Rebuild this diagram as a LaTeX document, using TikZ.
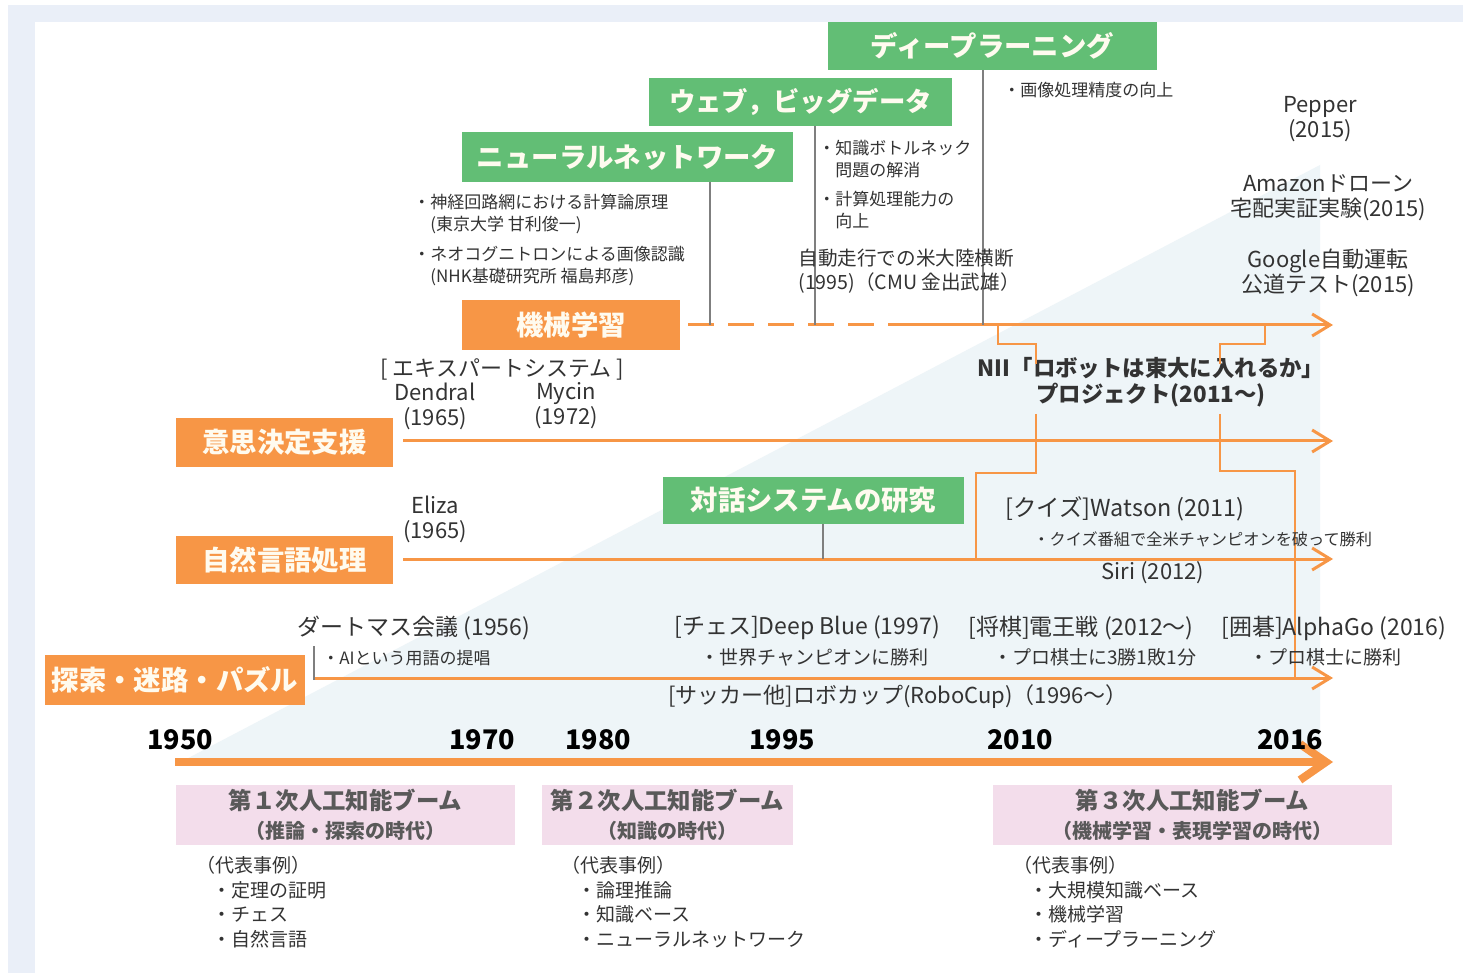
\documentclass[tikz,border=0pt]{standalone}
\usepackage{fontspec}
\setmainfont{Noto Sans CJK JP}
\usetikzlibrary{arrows.meta,calc}
\definecolor{framec}{HTML}{EAEFF8}
\definecolor{tric}{HTML}{EEF5F8}
\definecolor{og}{HTML}{F79646}
\definecolor{gr}{HTML}{62BE75}
\definecolor{pk}{HTML}{F3DDEB}
\definecolor{lg}{HTML}{7F7F7F}
\definecolor{txt}{HTML}{333333}
\definecolor{ptxt}{HTML}{595959}
\definecolor{btxt}{HTML}{FFFBEF}
\begin{document}
\begin{tikzpicture}[x=0.5pt,y=-0.5pt,
  boxlabel/.style={inner sep=0pt, text=btxt, font=\fontsize{13.7}{16}\selectfont\bfseries},
  gbox/.style={boxlabel, fill=gr},
  obox/.style={boxlabel, fill=og},
  pbox/.style={fill=pk, inner sep=0pt, text=ptxt, align=center, font=\bfseries},
  sm/.style={inner sep=0pt, text=txt, align=left, font=\fontsize{8.5}{11}\selectfont},
  sb/.style={inner sep=0pt, text=txt, align=left, font=\fontsize{9.5}{12}\selectfont},
  md/.style={inner sep=0pt, text=txt, align=center, font=\fontsize{11}{12.5}\selectfont},
  mdl/.style={inner sep=0pt, text=txt, align=left, font=\fontsize{11.5}{12.5}\selectfont},
  lst/.style={inner sep=0pt, text=txt, align=left, font=\fontsize{9.5}{12.3}\selectfont},
  yr/.style={inner sep=0pt, text=black, font=\fontsize{13.5}{15}\selectfont\bfseries},
  gline/.style={draw=lg, line width=0.9pt},
  oarrow/.style={draw=og, line width=1.5pt, -{Straight Barb[length=9pt,width=11pt]}},
  odash/.style={draw=og, line width=1.5pt, dash pattern=on 13pt off 7pt},
  othin/.style={draw=og, line width=0.9pt},
  axisarrow/.style={draw=og, line width=4pt, -{Straight Barb[length=13pt,width=18pt]}}
]
\useasboundingbox (0,0) rectangle (1463,973);
% frame and background triangle
\fill[framec] (8,5) rectangle (1463,973);
\fill[white] (35,22) rectangle (1463,973);
\fill[tric] (175,765) -- (1320,165) -- (1320,765) -- cycle;

% boxes
\node[gbox, minimum width=164.5pt, minimum height=24pt] (deep) at (992.5,46) {ディープラーニング};
\node[gbox, minimum width=151.5pt, minimum height=24pt, font=\fontsize{13.2}{16}\selectfont\bfseries] (web) at (800.5,102) {ウェブ，ビッグデータ};
\node[gbox, minimum width=165.5pt, minimum height=25pt] (nn) at (627.5,157) {ニューラルネットワーク};
\node[obox, minimum width=109pt, minimum height=25pt] (ml) at (571,325) {機械学習};
\node[obox, minimum width=108.5pt, minimum height=24.5pt] (ds) at (284.5,442.5) {意思決定支援};
\node[obox, minimum width=108.5pt, minimum height=24pt] (nlp) at (284.5,560) {自然言語処理};
\node[obox, minimum width=130pt, minimum height=25pt] (srch) at (175,680) {探索・迷路・パズル};
\node[gbox, minimum width=150.5pt, minimum height=23.5pt] (dlg) at (813.5,500.5) {対話システムの研究};

% line coordinates
\coordinate (mlS) at (688,325);
\coordinate (mlM) at (912,325);
\coordinate (mlE) at (1333,325);
\coordinate (dsS) at (403,441);
\coordinate (dsE) at (1333,441);
\coordinate (nlS) at (403,559);
\coordinate (nlE) at (1333,559);
\coordinate (srS) at (315,678);
\coordinate (srE) at (1333,678);
\coordinate (axS) at (175,762);
\coordinate (axE) at (1333,762);
\coordinate (nnx) at (710,325);
\coordinate (wbx) at (815,325);
\coordinate (dpx) at (983,325);
\coordinate (dlx) at (823,559);
\coordinate (dmT) at (314,646);
\coordinate (dmB) at (314,680);

% orange lines
\draw[odash] (mlS) -- (mlM);
\draw[oarrow] (mlM) -- (mlE);
\draw[oarrow] (dsS) -- (dsE);
\draw[oarrow] (nlS) -- (nlE);
\draw[oarrow] (srS) -- (srE);
\draw[axisarrow] (axS) -- (axE);

% gray connectors
\draw[gline] (nn.south -| nnx) -- (nnx);
\draw[gline] (web.south -| wbx) -- (wbx);
\draw[gline] (deep.south -| dpx) -- (dpx);
\draw[gline] (dlg.south -| dlx) -- (dlx);
\draw[gline] (dmT) -- (dmB);

% NII project and brackets
\node[md, font=\fontsize{11.2}{13}\selectfont\bfseries] (nii) at (1151,382) {NII「ロボットは東大に入れるか」\\プロジェクト(2011～)};
\coordinate (nb1) at (998,325);
\coordinate (nb2) at (1036,344);
\coordinate (nb3) at (1036,364);
\coordinate (nb4) at (1265,325);
\coordinate (nb5) at (1220,344);
\coordinate (nb6) at (1220,364);
\coordinate (nc1) at (1036,414);
\coordinate (nc2) at (976,473);
\coordinate (nc3) at (976,559);
\coordinate (nd1) at (1220,414);
\coordinate (nd2) at (1295,471);
\coordinate (nd3) at (1295,678);
\draw[othin] (nb1) |- (nb2) -- (nb3);
\draw[othin] (nb4) |- (nb5) -- (nb6);
\draw[othin] (nc1) |- (nc2) -- (nc3);
\draw[othin] (nd1) |- (nd2) -- (nd3);

% small annotations
\node[sm, anchor=west] (timg) at (1003,90) {・画像処理精度の向上};
\node[sm, anchor=west] (tbn) at (818,159) {・知識ボトルネック\\　問題の解消};
\node[sm, anchor=west] (tcp) at (818,210) {・計算処理能力の\\　向上};
\node[sm, anchor=west] (tn1) at (413,214) {・神経回路網における計算論原理\\　(東京大学 甘利俊一)};
\node[sm, anchor=west] (tn2) at (413,266) {・ネオコグニトロンによる画像認識\\　(NHK基礎研究所 福島邦彦)};
\node[md, align=left, anchor=west, font=\fontsize{9.8}{12}\selectfont] (tauto) at (798,271) {自動走行での米大陸横断\\(1995)（CMU 金出武雄）};

% right column
\node[md] (pep) at (1320,119) {Pepper\\(2015)};
\node[md] (amz) at (1328,198) {Amazonドローン\\宅配実証実験(2015)};
\node[md] (goo) at (1328,273) {Google自動運転\\公道テスト(2015)};

% expert systems
\node[md] (exp) at (502,369) {[ エキスパートシステム ]};
\node[md] (dend) at (435,406) {Dendral\\(1965)};
\node[md] (myc) at (566,406) {Mycin\\(1972)};
\node[md] (eliza) at (435,519) {Eliza\\(1965)};

% watson / siri
\node[mdl, anchor=west, font=\fontsize{11.7}{12.5}\selectfont] (wat) at (1005,509) {[クイズ]Watson (2011)};
\node[sm, anchor=west, font=\fontsize{8.1}{11}\selectfont] (watb) at (1033,539) {・クイズ番組で全米チャンピオンを破って勝利};
\node[md] (siri) at (1153,573) {Siri (2012)};

% search row
\node[mdl, anchor=west] (dart) at (297,628) {ダートマス会議 (1956)};
\node[sm, anchor=west] (dartb) at (322,658) {・AIという用語の提唱};
\node[mdl, anchor=west] (chess) at (674,628) {[チェス]Deep Blue (1997)};
\node[sb, anchor=west] (chessb) at (700,657) {・世界チャンピオンに勝利};
\node[mdl, anchor=west] (shogi) at (968,628) {[将棋]電王戦 (2012～)};
\node[sb, anchor=west] (shogib) at (993,657) {・プロ棋士に3勝1敗1分};
\node[mdl, anchor=west] (go) at (1221,628) {[囲碁]AlphaGo (2016)};
\node[sb, anchor=west] (gob) at (1249,657) {・プロ棋士に勝利};
\node[md, anchor=west] (robo) at (668,697) {[サッカー他]ロボカップ(RoboCup)（1996～）};

% years
\node[yr] (y1950) at (180,740) {1950};
\node[yr] (y1970) at (482,740) {1970};
\node[yr] (y1980) at (598,740) {1980};
\node[yr] (y1995) at (782,740) {1995};
\node[yr] (y2010) at (1020,740) {2010};
\node[yr] (y2016) at (1290,740) {2016};

% boom boxes
\node[pbox, minimum width=169.5pt, minimum height=30pt] (p1) at (345.5,815) {\fontsize{11.7}{15}\selectfont 第１次人工知能ブーム\\[2.5pt]\fontsize{10}{15}\selectfont（推論・探索の時代）};
\node[pbox, minimum width=125.5pt, minimum height=30pt] (p2) at (667.5,815) {\fontsize{11.7}{15}\selectfont 第２次人工知能ブーム\\[2.5pt]\fontsize{10}{15}\selectfont（知識の時代）};
\node[pbox, minimum width=199.5pt, minimum height=30pt] (p3) at (1192.5,815) {\fontsize{11.7}{15}\selectfont 第３次人工知能ブーム\\[2.5pt]\fontsize{10}{15}\selectfont（機械学習・表現学習の時代）};

% example lists
\node[lst, anchor=west] (l1) at (196,902) {（代表事例）\\\hspace*{8pt}・定理の証明\\\hspace*{8pt}・チェス\\\hspace*{8pt}・自然言語};
\node[lst, anchor=west] (l2) at (561,902) {（代表事例）\\\hspace*{8pt}・論理推論\\\hspace*{8pt}・知識ベース\\\hspace*{8pt}・ニューラルネットワーク};
\node[lst, anchor=west] (l3) at (1013,902) {（代表事例）\\\hspace*{8pt}・大規模知識ベース\\\hspace*{8pt}・機械学習\\\hspace*{8pt}・ディープラーニング};
\end{tikzpicture}
\end{document}
